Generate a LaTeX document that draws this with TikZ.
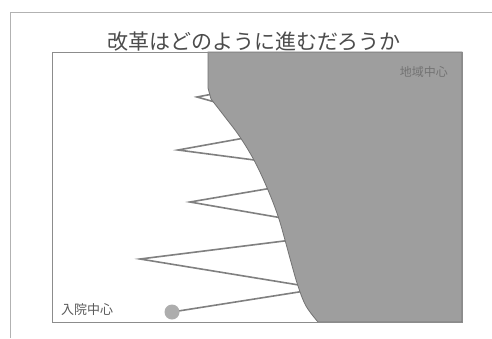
\documentclass[tikz,border=0pt]{standalone}
\usepackage{fontspec}
\newfontfamily\jp{Noto Sans CJK JP}
\begin{document}
\begin{tikzpicture}[x=1pt,y=-1pt,
  frameline/.style={draw=black!30, line width=1pt},
  boxline/.style={draw=black!45, line width=0.9pt},
  zig/.style={draw=black!50, line width=1.6pt},
  region/.style={fill=black!38, draw=black!55, line width=0.8pt},
  label/.style={font=\jp, text=black!65, inner sep=0pt}]
\useasboundingbox (0,0) rectangle (492,338);
\fill[white] (0,0) rectangle (492,338);
% outer frame
\coordinate (fa) at (10,338);
\coordinate (fb) at (10,12);
\coordinate (fc) at (492,12);
\draw[frameline] (fa) -- (fb) -- (fc);
% title
\node[label, font=\jp\fontsize{21}{24}\selectfont, text=black!70] (title) at (254,42) {改革はどのように進むだろうか};
% zigzag coordinates
\coordinate (p0) at (172,312);
\coordinate (b1) at (305,291);
\coordinate (b2) at (305,286);
\coordinate (t1) at (140,259);
\coordinate (b3) at (292,240);
\coordinate (b4) at (288,219);
\coordinate (t2) at (190,202);
\coordinate (b5) at (278,187);
\coordinate (b6) at (262,161);
\coordinate (t3) at (178,150);
\coordinate (b7) at (250,137);
\coordinate (b8) at (222,104);
\coordinate (t4) at (197,97);
\coordinate (b9) at (218,93);
\draw[zig] (p0) -- (b1);
\draw[zig] (b2) -- (t1) -- (b3);
\draw[zig] (b4) -- (t2) -- (b5);
\draw[zig] (b6) -- (t3) -- (b7);
\draw[zig] (b8) -- (t4) -- (b9);
% gray region
\path[region] (208,52) -- (462,52) -- (462,322) -- (318,322)
  -- plot[smooth, tension=0.6] coordinates {(318,322) (306,306) (298,286) (291,262) (285,240) (278,216) (268,190) (255,162) (240,137) (225,117) (211,99)}
  -- (208,88) -- cycle;
% inner box
\draw[boxline] (52,52) rectangle (462,322);
% ball
\node[circle, fill=black!32, minimum size=15pt, inner sep=0pt] (ball) at (p0) {};
% labels
\node[label, font=\jp\fontsize{13}{15}\selectfont, text=black!65, anchor=west] (hosp) at (61,310) {入院中心};
\node[label, font=\jp\fontsize{12}{14}\selectfont, text=black!55, anchor=east] (comm) at (448,72) {地域中心};
\end{tikzpicture}
\end{document}
